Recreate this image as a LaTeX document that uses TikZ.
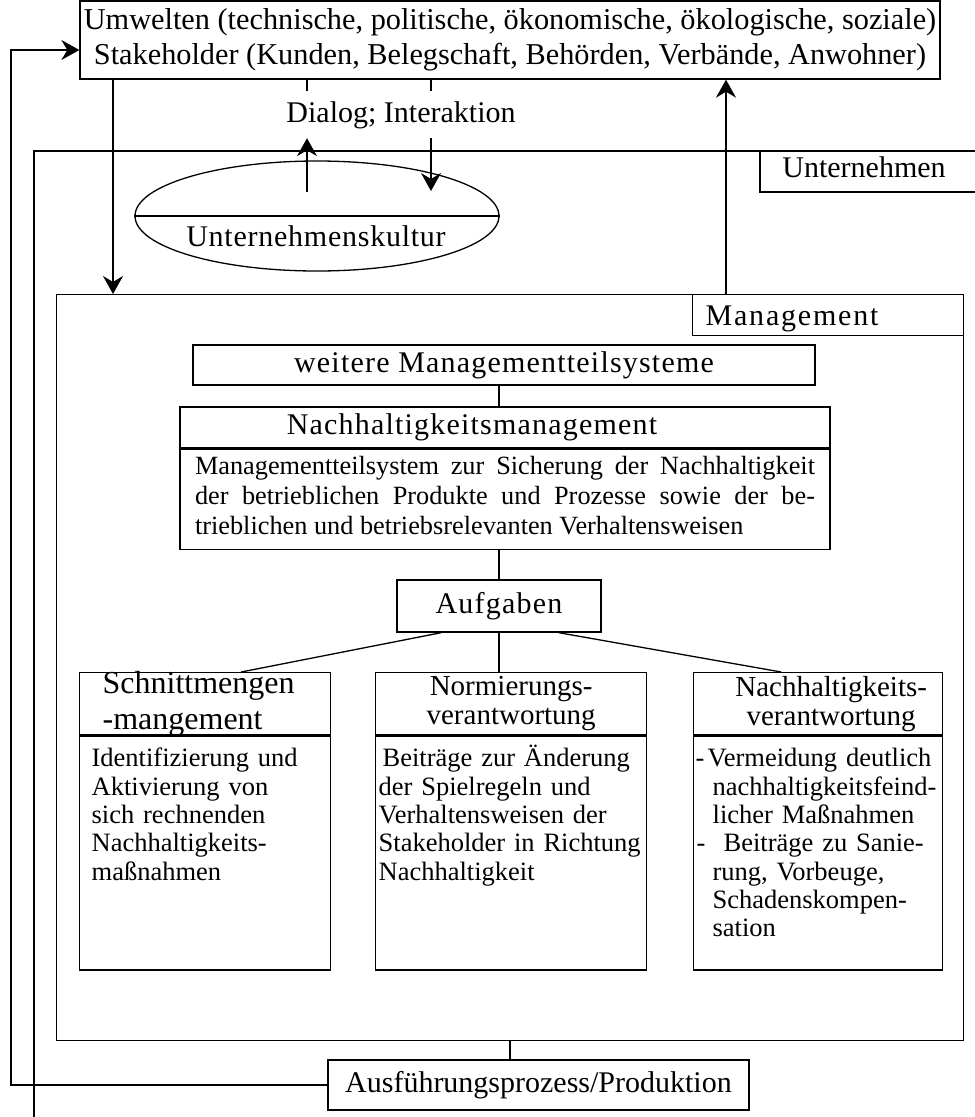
\documentclass[tikz,border=0pt]{standalone}
\usepackage{fontspec}
\setmainfont{Liberation Serif}
\usetikzlibrary{arrows.meta, shapes.geometric, calc}

\begin{document}
\begin{tikzpicture}[
  x=1pt, y=-1pt,
  every node/.style={font=\fontsize{30}{35}\selectfont, inner sep=0pt},
  spaced/.style={font=\fontsize{30}{35}\selectfont\addfontfeatures{LetterSpace=#1}},
  frame/.style={line width=1.3pt},
  link/.style={line width=1.3pt},
  arr/.style={line width=1.3pt, -{Stealth[length=18pt, width=20pt, inset=6pt]}},
  box/.style={rectangle, draw, line width=1.3pt, align=center, minimum width=#1},
  headbox/.style={rectangle, draw, line width=1.3pt, anchor=north west, minimum width=#1, minimum height=62pt, align=center, font=\fontsize{29}{29}\selectfont},
  bodybox/.style={rectangle, draw, line width=1.3pt, anchor=north west, text width=#1, align=left, text height=31pt, text depth=203pt, font=\fontsize{26.5}{28.3}\selectfont},
]
\useasboundingbox (0,0) rectangle (975,1117);

% Umwelten / Stakeholder
\node[box=860pt, minimum height=78pt, font=\fontsize{30.3}{35}\selectfont] (top) at (510,40)
  {Umwelten (technische, politische, ökonomische, ökologische, soziale)\\Stakeholder (Kunden, Belegschaft, Behörden, Verbände, Anwohner)};
\node[anchor=base, text height=21pt, text depth=6pt, inner ysep=10pt] (dialog) at (401,122) {Dialog; Interaktion};

% Unternehmen
\draw[frame] (975,151) -- (34,151) -- (34,1117);
\draw[frame] (760,151) -- (760,192) -- (975,192);
\node[anchor=base] (untlab) at (864,177) {Unternehmen};

\node[ellipse, draw, line width=1.3pt, minimum width=364pt, minimum height=110pt] (kultur) at (317,216) {};
\draw[frame] (kultur.west) -- (kultur.east);
\node[anchor=base, spaced=2.5] (kulturtxt) at (316,246) {Unternehmenskultur};

% Management
\node[rectangle, draw, line width=1.3pt, anchor=north west, minimum width=907pt, minimum height=746pt] (mgmt) at (56,294) {};
\node[rectangle, draw, line width=1.3pt, anchor=north east, text width=245pt, inner xsep=13pt, inner ysep=0pt, text height=31pt, text depth=10pt, align=left, spaced=6] (mgmtlab) at (mgmt.north east) {Management};

\node[box=622pt, minimum height=40pt, spaced=4] (weitere) at (504,365) {weitere Managementteilsysteme};
\node[box=650pt, minimum height=41pt, spaced=4] (nmhead) at (505,427.5) {Nachhaltigkeitsmanagement\hspace*{66pt}};
\node[rectangle, draw, line width=1.3pt, anchor=north west, text width=620pt, inner xsep=15pt, align=justify, text height=25pt, text depth=75pt, font=\fontsize{26.3}{30}\selectfont] (nmbody) at (nmhead.south west)
  {Managementteilsystem zur Sicherung der Nachhaltigkeit\linebreak der betrieblichen Produkte und Prozesse sowie der be-\linebreak trieblichen und betriebsrelevanten Verhaltensweisen};

\node[box=204pt, minimum height=52pt, spaced=4] (aufg) at (499,606) {Aufgaben};

% Aufgabenfelder
\node[headbox=251pt, align=left, text width=205pt, inner xsep=23pt, text height=21pt, text depth=41pt, font=\fontsize{32}{36}\selectfont] (schnhead) at (79,672) {Schnittmengen\\-mangement};
\node[bodybox=227pt, inner xsep=12pt] (schnbody) at (schnhead.south west)
  {Identifizierung und\\Aktivierung von\\sich rechnenden\\Nachhaltigkeits-\\maßnahmen};

\node[headbox=271pt] (normhead) at (375,672) {Normierungs-\\verantwortung};
\node[bodybox=265pt, inner xsep=3pt] (normbody) at (normhead.south west)
  {\hspace*{4pt}Beiträge zur Änderung\\der Spielregeln und\\Verhaltensweisen der\\Stakeholder in Richtung\\Nachhaltigkeit};

\node[headbox=249pt] (nachvhead) at (693,672) {\hspace*{26pt}Nachhaltigkeits-\\\hspace*{26pt}verantwortung};
\node[bodybox=245pt, inner xsep=2pt] (nachvbody) at (nachvhead.south west)
  {\makebox[12pt][l]{-}Vermeidung deutlich\\\hspace*{17pt}nachhaltigkeitsfeind-\\\hspace*{17pt}licher Maßnahmen\\\hspace*{1pt}\makebox[27pt][l]{-}Beiträge zu Sanie-\\\hspace*{17pt}rung, Vorbeuge,\\\hspace*{17pt}Schadenskompen-\\\hspace*{17pt}sation};

% Ausfuehrung
\node[box=421pt, minimum height=50pt] (ausf) at (538.5,1085) {Ausführungsprozess/Produktion};

% Connections
\coordinate (lx) at (113,0);
\coordinate (rx) at (726,0);
\coordinate (dlx) at (307,0);
\coordinate (drx) at (431,0);
\coordinate (px) at (510,0);
\coordinate (upfoot) at (307,192);
\coordinate (downtip) at (431,191);
\coordinate (loop) at (11,500);

\draw[arr] (top.south -| lx) -- (mgmt.north -| lx);
\draw[arr] (mgmt.north -| rx) -- (top.south -| rx);
\draw[link] (top.south -| dlx) -- (dialog.north -| dlx);
\draw[link] (top.south -| drx) -- (dialog.north -| drx);
\draw[arr] (upfoot) -- (dialog.south -| upfoot);
\draw[arr] (dialog.south -| downtip) -- (downtip);

\draw[link] (weitere.south -| aufg.north) -- (nmhead.north -| aufg.north);
\draw[link] (nmbody.south -| aufg.north) -- (aufg.north);
\draw[link] ([xshift=45pt]aufg.south west) -- ([xshift=36pt]schnhead.north);
\draw[link] (aufg.south) -- (aufg.south |- normhead.north);
\draw[link] ([xshift=-43pt]aufg.south east) -- ([xshift=-37pt]nachvhead.north);

\draw[link, line width=2.5pt] (mgmt.south -| px) -- (ausf.north -| px);
\draw[arr] (ausf.west) -| (loop) |- ([yshift=-10pt]top.west);

\end{tikzpicture}
\end{document}
